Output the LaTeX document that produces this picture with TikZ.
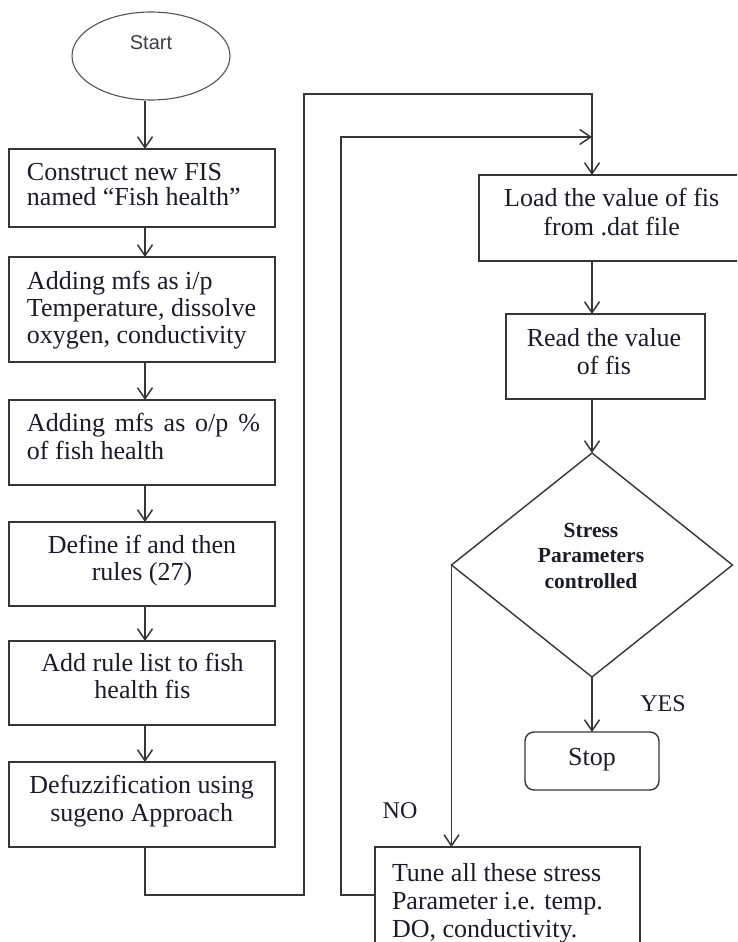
\documentclass[tikz,border=0pt]{standalone}
\usepackage{fontspec}
\setmainfont{Liberation Serif}
\newfontfamily\startfont{Liberation Sans}
\usetikzlibrary{arrows.meta,shapes.geometric}
\definecolor{linec}{HTML}{363636}
\definecolor{txtc}{HTML}{1C1C28}
\newcommand\fsz[2]{\fontsize{#1}{#2}\selectfont}
\begin{document}
\begin{tikzpicture}[x=1pt,y=-1pt,
  boxsh/.style={draw=linec,line width=1.4pt,rectangle,inner sep=0pt,outer sep=0pt},
  conn/.style={draw=linec,line width=1.6pt},
  arr/.style={conn,-{Straight Barb[length=11pt,width=15pt,line width=1.5pt]}},
  txt/.style={inner sep=0pt,outer sep=0pt,text=txtc},
  lefttxt/.style={txt,anchor=north west,align=left},
  ctxt/.style={txt,anchor=north,align=center},
  labtxt/.style={txt,anchor=base},
]
\useasboundingbox (0,0) rectangle (737,942);
\clip (0,0) rectangle (737,942);
\fill[white] (0,0) rectangle (737,942);

% start
\node[ellipse,draw=linec!85,line width=1.1pt,minimum width=158pt,minimum height=88pt,inner sep=0pt] (start) at (151,56) {};
\node[labtxt,text=txtc!85,font=\startfont\fsz{20}{22}] (starttxt) at (151,50) {Start};

% left column boxes
\node[boxsh,minimum width=266pt,minimum height=78pt] (b1) at (142,188) {};
\node[boxsh,minimum width=266pt,minimum height=105pt] (b2) at (142,309.5) {};
\node[boxsh,minimum width=266pt,minimum height=85pt] (b3) at (142,442.5) {};
\node[boxsh,minimum width=266pt,minimum height=84pt] (b4) at (142,564) {};
\node[boxsh,minimum width=266pt,minimum height=84pt] (b5) at (142,683) {};
\node[boxsh,minimum width=266pt,minimum height=85pt] (b6) at (142,804.5) {};

\node[lefttxt,font=\fsz{26}{25}] (t1) at (27,163) {Construct new FIS\\named “Fish health”};
\node[lefttxt,font=\fsz{26}{27}] (t2) at (27,271) {Adding mfs as i/p\\Temperature, dissolve\\oxygen, conductivity};
\node[lefttxt,font=\fsz{26}{28.5}] (t3) at (27,413) {\makebox[233pt][s]{Adding mfs as o/p \%}\\of fish health};
\node[ctxt,font=\fsz{26}{27}] (t4) at (142,535) {Define if and then\\rules (27)};
\node[ctxt,font=\fsz{26}{27}] (t5) at (142.5,653) {Add rule list to fish\\health fis};
\node[ctxt,font=\fsz{26}{28.5}] (t6) at (141.7,775) {Defuzzification using\\sugeno Approach};

% right column
\node[boxsh,minimum width=286pt,minimum height=86pt] (load) at (622,218) {};
\node[ctxt,font=\fsz{26}{29}] (tload) at (611.7,188) {Load the value of fis\\from .dat file};
\node[boxsh,minimum width=199pt,minimum height=85pt] (read) at (605.5,356.5) {};
\node[ctxt,font=\fsz{26}{28}] (tread) at (604,328) {Read the value\\of fis};
\node[diamond,draw=linec,line width=1.4pt,minimum width=281pt,minimum height=224pt,inner sep=0pt,outer sep=0pt] (dia) at (592,565) {};
\node[ctxt,font=\bfseries\fsz{21.5}{25.5}] (tdia) at (591,523) {Stress\\Parameters\\controlled};
\node[boxsh,rounded corners=9pt,minimum width=134pt,minimum height=58pt] (stop) at (592,761) {};
\node[labtxt,font=\fsz{26}{28}] (tstop) at (592,765) {Stop};
\node[boxsh,minimum width=265pt,minimum height=118pt] (tune) at (507.5,906) {};
\node[lefttxt,font=\fsz{26}{28}] (ttune) at (392,863) {Tune all these stress\\Parameter i.e. temp.\\DO, conductivity.};

\node[labtxt,font=\fsz{24}{28}] (yes) at (663,711) {YES};
\node[labtxt,font=\fsz{24}{28}] (no) at (400,818) {NO};

% connectors
\coordinate (axl) at (145,0);
\coordinate (axr) at (592,0);
\draw[arr] (start.south -| axl) -- (b1.north -| axl);
\draw[arr] (b1.south -| axl) -- (b2.north -| axl);
\draw[arr] (b2.south -| axl) -- (b3.north -| axl);
\draw[arr] (b3.south -| axl) -- (b4.north -| axl);
\draw[arr] (b4.south -| axl) -- (b5.north -| axl);
\draw[arr] (b5.south -| axl) -- (b6.north -| axl);

\coordinate (lp1) at (304,895);
\coordinate (lp2) at (304,94);
\draw[arr] (b6.south -| axl) |- (lp1) -- (lp2) -| (load.north -| axr);

\coordinate (lp3) at (341,895);
\coordinate (lp4) at (341,137);
\draw[arr] (tune.west |- lp3) -- (lp3) -- (lp4) -- (lp4 -| axr);

\draw[arr] (load.south -| axr) -- (read.north -| axr);
\draw[arr] (read.south -| axr) -- (dia.north);
\draw[arr] (dia.south) -- (stop.north);
\draw[arr] (dia.west) -- (dia.west |- tune.north);
\end{tikzpicture}
\end{document}
